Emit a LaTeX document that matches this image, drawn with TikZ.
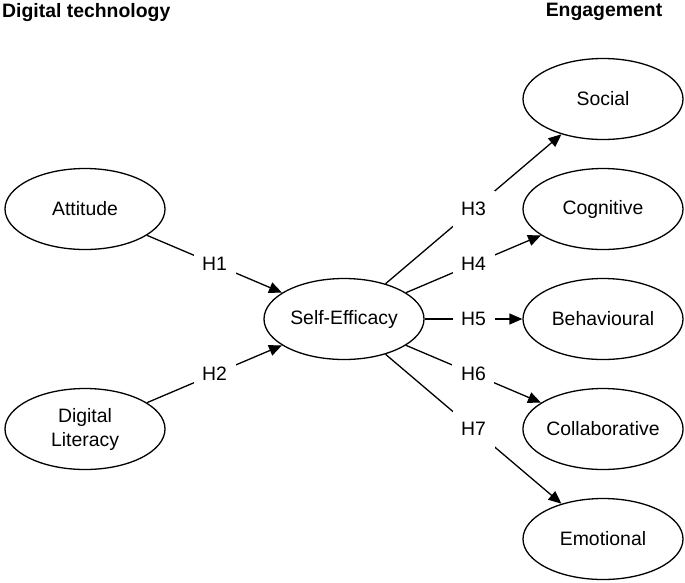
\documentclass[tikz,border=0pt]{standalone}
\usepackage{fontspec}
\setmainfont{Liberation Sans}
\usepackage{tikz}
\usetikzlibrary{positioning,arrows.meta,shapes.geometric}
\tikzset{
  construit/.style={
    ellipse, draw=black, line width=1.3pt, fill=white,
    minimum width=160pt, minimum height=81pt, inner sep=0pt,
    align=center, font=\fontsize{19.4}{24}\selectfont},
  fleche/.style={-{Triangle[length=13pt,width=11pt]}, draw=black, line width=1.3pt},
  hypothese/.style={
    fill=white, minimum width=42pt, minimum height=37pt, inner sep=0pt,
    font=\fontsize{19.4}{24}\selectfont},
  titre/.style={font=\bfseries\fontsize{19.4}{24}\selectfont, inner sep=0pt}
}

\begin{document}
\begin{tikzpicture}[x=1pt, y=-1pt]

  \useasboundingbox (0,0) rectangle (685,582);

  % --- Titres des deux blocs
  \node[titre, anchor=base west] (techno) at (2,17)   {Digital technology};
  \node[titre, anchor=base]      (engag)  at (604,16) {Engagement};

  % --- Technologie numerique
  \node[construit] (ATT) at ( 85,209) {Attitude};
  \node[construit] (LIT) at ( 85,429) {Digital\\Literacy};

  % --- Mediateur
  \node[construit] (SE)  at (344,319) {Self-Efficacy};

  % --- Dimensions de l'engagement
  \node[construit] (SOC) at (603, 99) {Social};
  \node[construit] (COG) at (603,209) {Cognitive};
  \node[construit] (BEH) at (603,319) {Behavioural};
  \node[construit] (COL) at (603,429) {Collaborative};
  \node[construit] (EMO) at (603,539) {Emotional};

  % --- Hypotheses
  \draw[fleche] (ATT) -- node[hypothese] {H1} (SE);
  \draw[fleche] (LIT) -- node[hypothese] {H2} (SE);
  \draw[fleche] (SE)  -- node[hypothese] {H3} (SOC);
  \draw[fleche] (SE)  -- node[hypothese] {H4} (COG);
  \draw[fleche] (SE)  -- node[hypothese] {H5} (BEH);
  \draw[fleche] (SE)  -- node[hypothese] {H6} (COL);
  \draw[fleche] (SE)  -- node[hypothese] {H7} (EMO);

\end{tikzpicture}
\end{document}
